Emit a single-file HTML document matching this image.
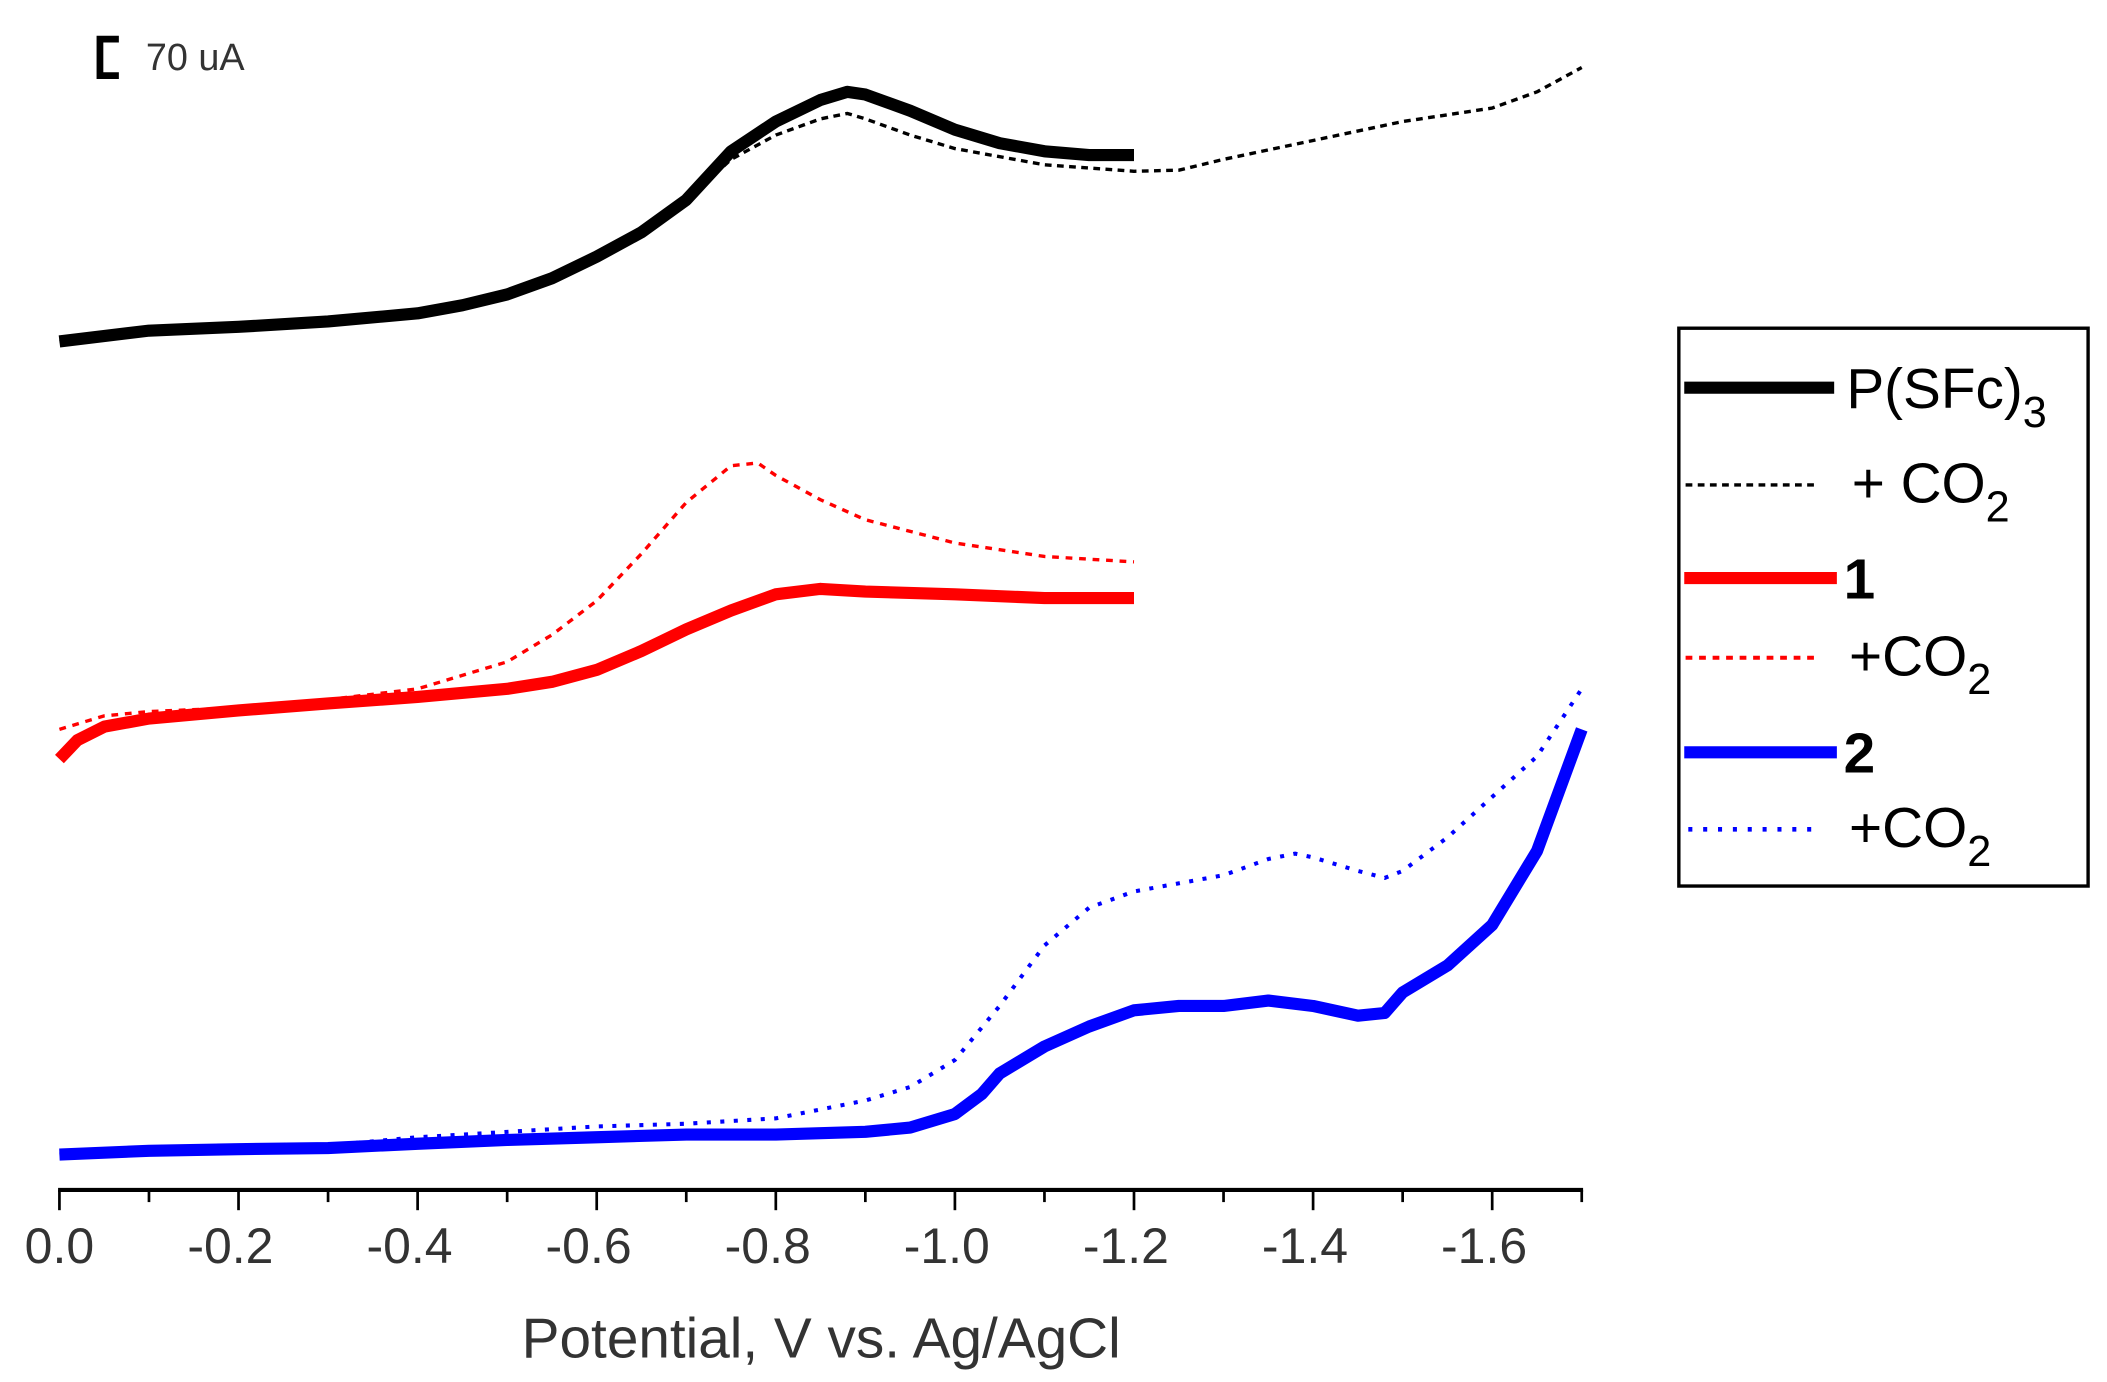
<!DOCTYPE html>
<html><head><meta charset="utf-8"><style>
html,body{margin:0;padding:0;background:#fff;}
svg{display:block;font-family:"Liberation Sans",Arial,sans-serif;}
</style></head><body>
<svg id="chart" width="2107" height="1382" viewBox="0 0 1560 1023.2" preserveAspectRatio="none" xmlns="http://www.w3.org/2000/svg">
<g>
<path d="M88,29 H74 V56 H88" fill="none" stroke="#000" stroke-width="5"/>
<text x="108" y="52" font-size="28" fill="#333">70 uA</text>
</g>
<g id="series"></g>
<g id="xaxis"></g>
<text x="608" y="1005" font-size="42" fill="#333" text-anchor="middle">Potential, V vs. Ag/AgCl</text>
<g transform="translate(-5,0)">
<rect x="1248" y="243" width="303" height="413" fill="#fff" stroke="#000" stroke-width="2.5"/>
<line x1="1252" y1="287" x2="1363" y2="287" stroke="#000" stroke-width="9"/>
<text x="1372" y="302" font-size="42" fill="#000">P(SFc)<tspan font-size="32" dy="14">3</tspan></text>
<line x1="1253" y1="359" x2="1352" y2="359" stroke="#000" stroke-width="2.5" stroke-dasharray="5,4"/>
<text x="1376" y="372" font-size="42" fill="#000">+ CO<tspan font-size="32" dy="14">2</tspan></text>
<line x1="1252" y1="428" x2="1365" y2="428" stroke="#f00" stroke-width="9"/>
<text x="1370" y="443" font-size="42" font-weight="bold" fill="#000">1</text>
<line x1="1253" y1="487" x2="1352" y2="487" stroke="#f00" stroke-width="3" stroke-dasharray="5,5"/>
<text x="1374" y="500" font-size="42" fill="#000">+CO<tspan font-size="32" dy="14">2</tspan></text>
<line x1="1252" y1="557" x2="1365" y2="557" stroke="#00f" stroke-width="9"/>
<text x="1370" y="572" font-size="42" font-weight="bold" fill="#000">2</text>
<line x1="1255" y1="614" x2="1352" y2="614" stroke="#00f" stroke-width="3.5" stroke-dasharray="3,8"/>
<text x="1374" y="627" font-size="42" fill="#000">+CO<tspan font-size="32" dy="14">2</tspan></text>
</g>
</svg>
<script>
const xTicks = [0.0, -0.2, -0.4, -0.6, -0.8, -1.0, -1.2, -1.4, -1.6];
const xTickLabels = ["0.0","-0.2","-0.4","-0.6","-0.8","-1.0","-1.2","-1.4","-1.6"];
const blackX = [0,-0.1,-0.2,-0.3,-0.4,-0.45,-0.5,-0.55,-0.6,-0.65,-0.7,-0.75,-0.8,-0.85,-0.88,-0.9,-0.95,-1.0,-1.05,-1.1,-1.15,-1.2];
const blackY = [1568,1588,1595,1605,1620,1635,1655,1685,1725,1770,1830,1920,1975,2015,2030,2025,1995,1960,1935,1920,1913,1913];
const blackCo2X = [0,-0.1,-0.2,-0.3,-0.4,-0.45,-0.5,-0.55,-0.6,-0.65,-0.7,-0.75,-0.8,-0.85,-0.88,-0.9,-0.95,-1.0,-1.1,-1.2,-1.25,-1.3,-1.4,-1.5,-1.6,-1.65,-1.7];
const blackCo2Y = [1568,1588,1595,1605,1620,1635,1655,1685,1725,1770,1830,1905,1950,1980,1990,1980,1950,1925,1895,1883,1885,1905,1940,1975,2000,2030,2075];
const redX = [0,-0.02,-0.05,-0.1,-0.2,-0.3,-0.4,-0.5,-0.55,-0.6,-0.65,-0.7,-0.75,-0.8,-0.85,-0.9,-1.0,-1.1,-1.2];
const redY = [795,830,855,870,885,898,910,925,938,960,995,1035,1070,1100,1110,1105,1100,1093,1093];
const redCo2X = [0,-0.05,-0.1,-0.2,-0.3,-0.4,-0.5,-0.55,-0.6,-0.65,-0.7,-0.75,-0.78,-0.8,-0.85,-0.9,-1.0,-1.1,-1.2];
const redCo2Y = [850,875,883,890,905,925,975,1025,1088,1175,1270,1338,1343,1320,1275,1238,1195,1170,1160];
const blueX = [0,-0.1,-0.2,-0.3,-0.4,-0.5,-0.6,-0.7,-0.8,-0.9,-0.95,-1.0,-1.03,-1.05,-1.1,-1.15,-1.2,-1.25,-1.3,-1.35,-1.4,-1.45,-1.48,-1.5,-1.55,-1.6,-1.65,-1.7];
const blueY = [63,70,73,75,83,90,95,100,100,105,113,138,175,213,263,300,330,338,338,348,338,320,325,363,413,488,625,850];
const blueCo2X = [0,-0.1,-0.3,-0.4,-0.5,-0.6,-0.7,-0.8,-0.9,-0.95,-1.0,-1.05,-1.1,-1.15,-1.2,-1.3,-1.35,-1.38,-1.4,-1.45,-1.48,-1.5,-1.55,-1.6,-1.65,-1.7];
const blueCo2Y = [63,70,80,95,105,115,120,130,163,188,238,338,450,520,550,580,610,620,613,588,575,588,650,725,800,925];

const NS = "http://www.w3.org/2000/svg";
function xScale(v){ return 44 + (-v) * 663; }
function yScale(i){ return 880 - i * 0.4; }

const seriesG = document.getElementById('series');
function drawLine(xs, ys, color, width, dash, name){
  const p = document.createElementNS(NS, 'polyline');
  p.setAttribute('points', xs.map((x,k)=>xScale(x).toFixed(1)+','+yScale(ys[k]).toFixed(1)).join(' '));
  p.setAttribute('fill','none');
  p.setAttribute('stroke',color);
  p.setAttribute('stroke-width',width);
  p.setAttribute('stroke-linejoin','round');
  if(dash) p.setAttribute('stroke-dasharray',dash);
  
  
  seriesG.appendChild(p);
}
drawLine(blackCo2X, blackCo2Y, '#000', 2.5, '5,4', 'line-psfc3-co2');
drawLine(blackX, blackY, '#000', 9, null, 'line-psfc3');
drawLine(redCo2X, redCo2Y, '#f00', 2.5, '5,5', 'line-1-co2');
drawLine(redX, redY, '#f00', 9, null, 'line-1');
drawLine(blueCo2X, blueCo2Y, '#00f', 3, '3,7', 'line-2-co2');
drawLine(blueX, blueY, '#00f', 9, null, 'line-2');

const ax = document.getElementById('xaxis');
const base = document.createElementNS(NS,'line');
base.setAttribute('x1', 43); base.setAttribute('x2', xScale(-1.7)+1);
base.setAttribute('y1', 881); base.setAttribute('y2', 881);
base.setAttribute('stroke','#000'); base.setAttribute('stroke-width',3);


ax.appendChild(base);
for(let k=0;k<=17;k++){
  const v = -k*0.1;
  const t = document.createElementNS(NS,'line');
  t.setAttribute('x1', xScale(v)); t.setAttribute('x2', xScale(v));
  t.setAttribute('y1', 881); t.setAttribute('y2', k%2===0 ? 896 : 890);
  t.setAttribute('stroke','#000'); t.setAttribute('stroke-width',2);
  
  
  ax.appendChild(t);
}
xTicks.forEach((v,k)=>{
  const tx = document.createElementNS(NS,'text');
  tx.setAttribute('x', xScale(v) - (k===0?0:6));
  tx.setAttribute('y', 935);
  tx.setAttribute('font-size', 37);
  tx.setAttribute('fill', '#333');
  tx.setAttribute('text-anchor', 'middle');
  tx.textContent = xTickLabels[k];
  
  
  ax.appendChild(tx);
});
</script>
</body></html>
